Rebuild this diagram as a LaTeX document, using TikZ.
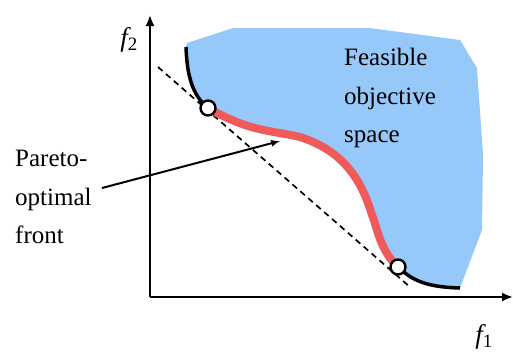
\documentclass[tikz,border=0pt]{standalone}
\usepackage{fontspec}
\setmainfont{Liberation Serif}
\usetikzlibrary{arrows.meta}

\definecolor{feasblue}{RGB}{150,200,250}
\definecolor{frontred}{RGB}{240,90,90}

\tikzset{
  axis/.style={line width=2pt, -{Latex[length=11pt,width=9pt]}},
  textblock/.style={font=\fontsize{25}{38.5}\selectfont, align=left, anchor=north west, inner sep=0pt},
  endpoint/.style={circle, draw=black, fill=white, line width=2.4pt, minimum size=15pt, inner sep=0pt}
}

\begin{document}
\begin{tikzpicture}[x=1pt, y=-1pt, >=latex]
\useasboundingbox (0,0) rectangle (513,354);

% Feasible region
\fill[feasblue] (187,43) -- (233,28) -- (370,28) -- (460,40) -- (477,68)
  -- (483,155) -- (482,230) -- (460,288)
  .. controls (425,287) and (412,280) .. (398,267)
  .. controls (380,250) and (378,230) .. (372,215)
  .. controls (360,175) and (340,150) .. (300,137)
  .. controls (270,130) and (250,132) .. (208,108)
  .. controls (192,95) and (187,75) .. (186,47) -- cycle;

% Axes
\draw[axis] (150,297) -- (150,15);
\draw[axis] (150,297) -- (513,297);
\node[font=\fontsize{27}{29}\selectfont\itshape] (ftwo) at (129,40) {f\textsubscript{\upshape 2}};
\node[font=\fontsize{27}{29}\selectfont\itshape] (fone) at (484,337) {f\textsubscript{\upshape 1}};

% Dashed tangent line
\draw[line width=1.7pt, dash pattern=on 6pt off 4.5pt] (158,67) -- (410,287);

% Black parts of the boundary
\draw[line width=3.5pt] (186,47) .. controls (187,75) and (192,95) .. (208,108);
\draw[line width=3.5pt] (398,267) .. controls (412,280) and (425,287) .. (460,288);

% Pareto-optimal front
\draw[frontred, line width=8pt] (208,108)
  .. controls (250,132) and (270,130) .. (300,137)
  .. controls (340,150) and (360,175) .. (372,215)
  .. controls (378,230) and (380,250) .. (398,267);

% Endpoints
\node[endpoint] (ptop) at (208,108) {};
\node[endpoint] (pbot) at (398,267) {};

% Labels
\node[textblock] (pareto) at (15,150) {Pareto-\\optimal\\front};
\node[textblock] (feasible) at (344,48) {Feasible\\objective\\space};

% Arrow to the front
\coordinate (arrowtail) at (102,188);
\coordinate (fronthit) at (280,141);
\draw[->, line width=2pt] (arrowtail) -- (fronthit);

\end{tikzpicture}
\end{document}
